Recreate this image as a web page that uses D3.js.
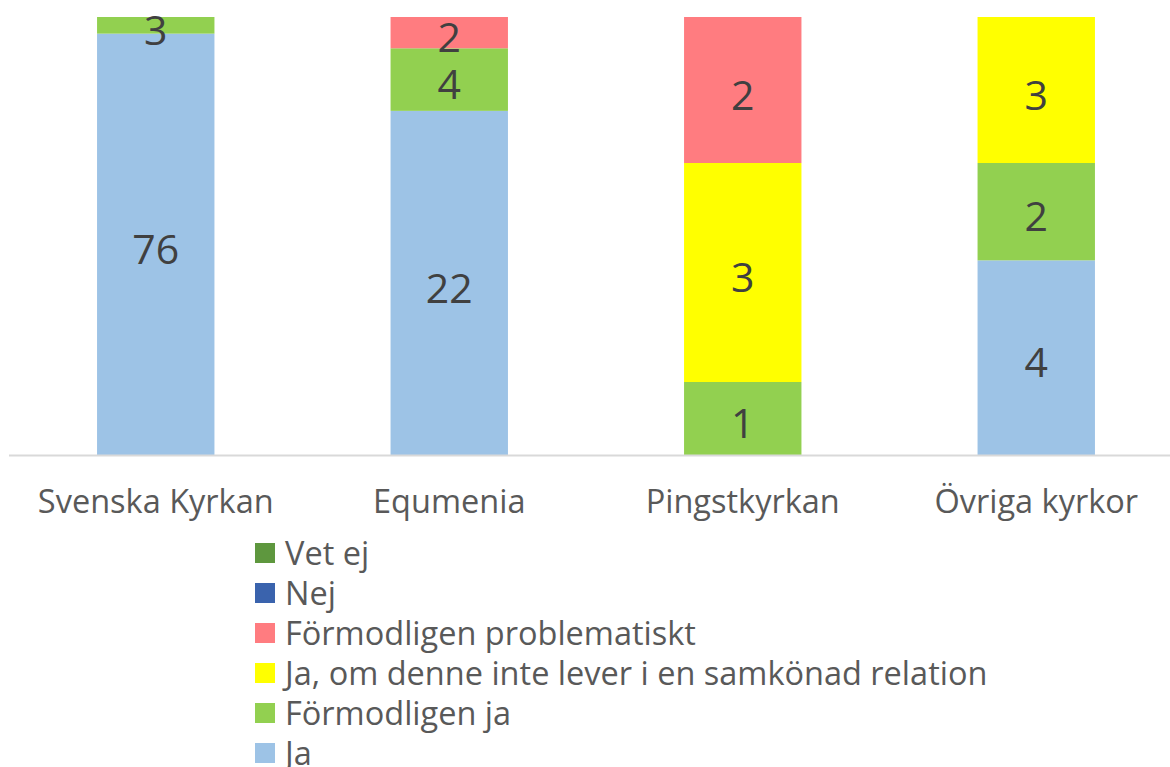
<!DOCTYPE html>
<html>
<head>
<meta charset="utf-8">
<script src="https://cdn.jsdelivr.net/npm/d3@7"></script>
<style>
  body { margin: 0; background: #fff; }
  svg { display: block; font-family: "Open Sans", sans-serif; }
</style>
</head>
<body>
<div id="container"></div>
<script>
// categories and series (counts per church)
const categories = ["Svenska Kyrkan", "Equmenia", "Pingstkyrkan", "Övriga kyrkor"];
const seriesNames = ["Ja", "Förmodligen ja", "Ja, om denne inte lever i en samkönad relation",
                     "Förmodligen problematiskt", "Nej", "Vet ej"];
const ja          = [76, 22, 0, 4];
const formodlJa   = [3, 4, 1, 2];
const jaOm        = [0, 0, 3, 3];
const formodlProb = [0, 2, 2, 0];
const nej         = [0, 0, 0, 0];
const vetEj       = [0, 0, 0, 0];
const colors = ["#9dc3e6", "#92d050", "#ffff00", "#ff7c80", "#3a63ad", "#5e973e"];

const width = 1170, height = 767;
const plotTop = 17, plotBottom = 455;

const seriesValues = [ja, formodlJa, jaOm, formodlProb, nej, vetEj];

// build rows for d3.stack
const rows = categories.map((c, i) => {
  const r = { cat: c };
  seriesNames.forEach((s, k) => { r[s] = seriesValues[k][i]; });
  return r;
});

const stack = d3.stack().keys(seriesNames).offset(d3.stackOffsetExpand);
const stacked = stack(rows);

const svg = d3.select("#container").append("svg")
  .attr("width", width)
  .attr("height", height);

const x = d3.scaleBand().domain(categories).range([9, 1183]).paddingInner(0.6).paddingOuter(0.3);
const y = d3.scaleLinear().domain([0, 1]).range([plotBottom, plotTop]);

// bars
const layers = svg.append("g").selectAll("g")
  .data(stacked)
  .join("g")
  .attr("fill", (d, i) => colors[i]);

layers.selectAll("rect")
  .data(d => d.map(v => Object.assign(v, { key: d.key })))
  .join("rect")
  .attr("x", d => x(d.data.cat))
  .attr("width", x.bandwidth())
  .attr("y", d => y(d[1]))
  .attr("height", d => y(d[0]) - y(d[1]));

// value labels
layers.selectAll("text")
  .data(d => d.filter(v => v.data[d.key] > 0))
  .join("text")
  .attr("x", d => x(d.data.cat) + x.bandwidth() / 2)
  .attr("y", d => (y(d[0]) + y(d[1])) / 2)
  .attr("dy", "0.48em")
  .attr("text-anchor", "middle")
  .attr("fill", "#404040")
  .style("font-size", "41px")
  .text(d => d.data[d.key]);

// x axis
const xAxis = svg.append("g")
  .attr("transform", "translate(0," + plotBottom + ")")
  .call(d3.axisBottom(x).tickSize(0).tickPadding(35));
xAxis.select(".domain").attr("stroke", "#d9d9d9").attr("stroke-width", 2)
  .attr("d", "M9,0.5H1170");
xAxis.selectAll("text")
  .attr("fill", "#595959")
  .style("font-size", "32.5px")
  .style("font-family", "'Open Sans', sans-serif");

// legend (reverse order)
const legend = svg.append("g").attr("transform", "translate(255,553)");
const legendItems = seriesNames.map((s, i) => ({ name: s, color: colors[i] })).reverse();
const li = legend.selectAll("g")
  .data(legendItems)
  .join("g")
  .attr("transform", (d, i) => "translate(0," + i * 40 + ")");
li.append("rect")
  .attr("x", 0).attr("y", -10)
  .attr("width", 20).attr("height", 20)
  .attr("fill", d => d.color);
li.append("text")
  .attr("x", 30)
  .attr("dy", "0.36em")
  .attr("fill", "#595959")
  .style("font-size", "32.5px")
  .text(d => d.name);
</script>
</body>
</html>
